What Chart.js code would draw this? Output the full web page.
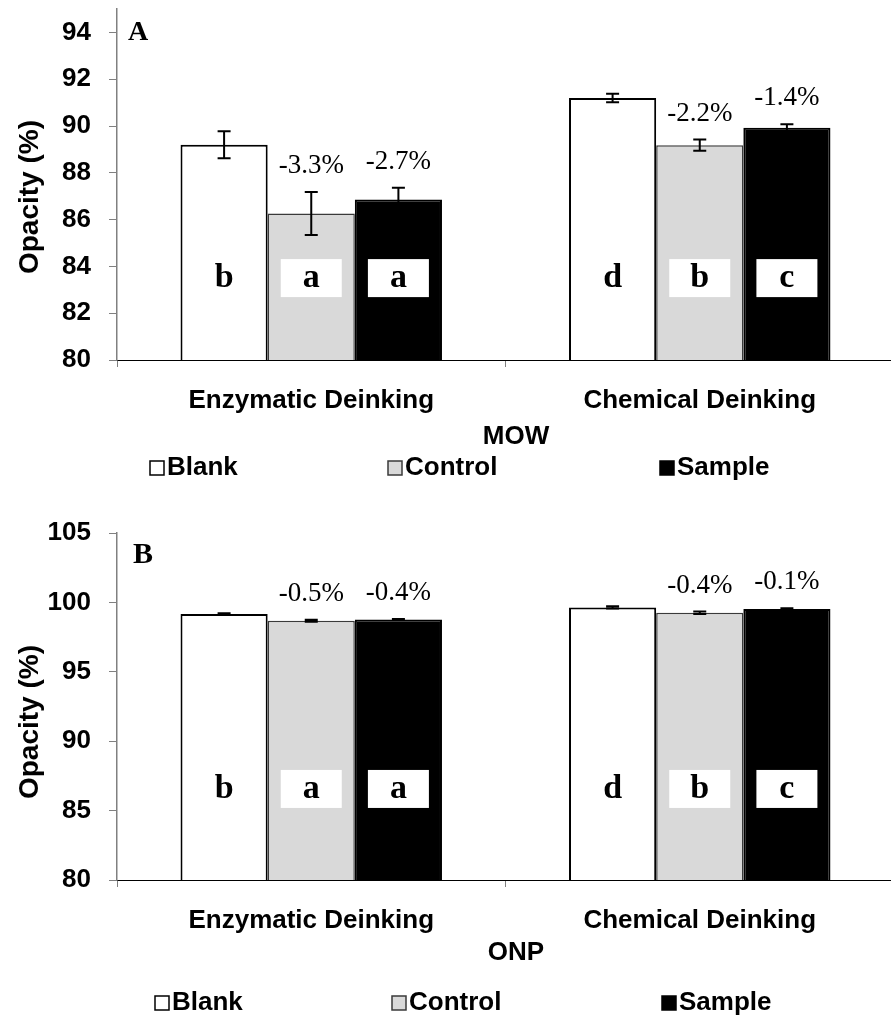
<!DOCTYPE html>
<html lang="en">
<head>
<meta charset="UTF-8">
<title>Opacity of deinked pulps</title>
<script src="https://cdn.jsdelivr.net/npm/chart.js"></script>
<style>
  html, body { margin: 0; padding: 0; background: #fff; overflow: hidden; }
  .panel { position: relative; width: 896px; }
  #panelA { height: 500px; }
  #panelB { height: 517px; }
</style>
</head>
<body>
<div class="panel" id="panelA"><canvas id="chartA"></canvas></div>
<div class="panel" id="panelB"><canvas id="chartB"></canvas></div>

<script>
const categories = ['Enzymatic Deinking', 'Chemical Deinking'];
const seriesNames = ['Blank', 'Control', 'Sample'];

// MOW opacity (%) with standard deviations
const mowTicks = [80, 82, 84, 86, 88, 90, 92, 94];
const mowBlank = [89.2, 91.2];
const mowControl = [86.26, 89.18];
const mowSample = [86.86, 89.93];
const mowBlankErr = [0.58, 0.18];
const mowControlErr = [0.92, 0.24];
const mowSampleErr = [0.5, 0.14];
const mowControlChange = ['-3.3%', '-2.2%'];
const mowSampleChange = ['-2.7%', '-1.4%'];

// ONP opacity (%) with standard deviations
const onpTicks = [80, 85, 90, 95, 100, 105];
const onpBlank = [99.16, 99.64];
const onpControl = [98.68, 99.26];
const onpSample = [98.77, 99.53];
const onpBlankErr = [0.05, 0.08];
const onpControlErr = [0.07, 0.09];
const onpSampleErr = [0.03, 0.04];
const onpControlChange = ['-0.5%', '-0.4%'];
const onpSampleChange = ['-0.4%', '-0.1%'];

// significance groups (same for both pulps)
const blankGroup = ['b', 'd'];
const controlGroup = ['a', 'b'];
const sampleGroup = ['a', 'c'];

const SANS = '"Liberation Sans", Arial, sans-serif';
const SERIF = '"Liberation Serif", "Times New Roman", serif';
const fills = ['#ffffff', '#d9d9d9', '#000000'];
const strokes = ['#000000', '#3a3a3a', '#000000'];

// error bars, % change labels, letter boxes, titles and legend
const annotate = {
  id: 'annotate',
  afterDatasetsDraw(chart, args, o) {
    const ctx = chart.ctx;
    const y = chart.scales.y;
    ctx.save();
    chart.data.datasets.forEach((ds, di) => {
      const meta = chart.getDatasetMeta(di);
      meta.data.forEach((bar, i) => {
        const v = ds.data[i];
        const e = o.errors[di][i];
        const top = y.getPixelForValue(v + e);
        const bot = y.getPixelForValue(v - e);

        // error bar
        ctx.strokeStyle = '#000';
        ctx.lineWidth = 2;
        ctx.beginPath();
        ctx.moveTo(bar.x, top); ctx.lineTo(bar.x, bot);
        ctx.moveTo(bar.x - 6.5, top); ctx.lineTo(bar.x + 6.5, top);
        ctx.moveTo(bar.x - 6.5, bot); ctx.lineTo(bar.x + 6.5, bot);
        ctx.stroke();

        // change vs blank
        if (o.changes[di]) {
          ctx.fillStyle = '#000';
          ctx.font = '27px ' + SERIF;
          ctx.textAlign = 'center';
          ctx.textBaseline = 'middle';
          ctx.fillText(o.changes[di][i], bar.x, top - 26);
        }

        // significance letter in a white box
        const ly = y.getPixelForValue(o.letterValue);
        ctx.fillStyle = '#fff';
        ctx.fillRect(bar.x - 30.5, ly - 19, 61, 38);
        ctx.fillStyle = '#000';
        ctx.font = 'bold 34px ' + SERIF;
        ctx.textAlign = 'center';
        ctx.textBaseline = 'middle';
        ctx.fillText(o.groups[di][i], bar.x, ly);
      });
    });
    ctx.restore();
  },
  afterDraw(chart, args, o) {
    const ctx = chart.ctx;
    const area = chart.chartArea;
    ctx.save();
    ctx.fillStyle = '#000';

    ctx.font = 'bold ' + o.panelSize + 'px ' + SERIF;
    ctx.textAlign = 'left';
    ctx.textBaseline = 'middle';
    ctx.fillText(o.panel, o.panelX, o.panelY);

    ctx.save();
    ctx.translate(30, o.yTitleY);
    ctx.rotate(-Math.PI / 2);
    ctx.font = 'bold 28px ' + SANS;
    ctx.textAlign = 'center';
    ctx.fillText('Opacity (%)', 0, 0);
    ctx.restore();

    ctx.font = 'bold 26px ' + SANS;
    ctx.textAlign = 'center';
    ctx.fillText(o.xTitle, 516, area.bottom + o.xTitleGap);

    // legend
    const ly = area.bottom + o.legendGap;
    seriesNames.forEach((name, i) => {
      const x = o.legendX[i];
      ctx.fillStyle = fills[i];
      ctx.fillRect(x, ly - 7, 14, 14);
      ctx.strokeStyle = strokes[i];
      ctx.lineWidth = 1.5;
      ctx.strokeRect(x, ly - 7, 14, 14);
      ctx.fillStyle = '#000';
      ctx.font = 'bold 26px ' + SANS;
      ctx.textAlign = 'left';
      ctx.fillText(name, x + 17, ly);
    });
    ctx.restore();
  }
};

function buildChart(id, p) {
  return new Chart(document.getElementById(id), {
    type: 'bar',
    data: {
      labels: categories,
      datasets: [
        { label: seriesNames[0], data: p.blank, backgroundColor: fills[0], borderColor: strokes[0], borderWidth: 2 },
        { label: seriesNames[1], data: p.control, backgroundColor: fills[1], borderColor: strokes[1], borderWidth: 1.5 },
        { label: seriesNames[2], data: p.sample, backgroundColor: fills[2], borderColor: strokes[2], borderWidth: 2 }
      ]
    },
    options: {
      responsive: true,
      maintainAspectRatio: false,
      animation: false,
      layout: { padding: { top: p.padTop, bottom: p.padBottom, left: 0, right: 2 } },
      datasets: { bar: { barPercentage: 1, categoryPercentage: 0.673 } },
      plugins: {
        legend: { display: false },
        tooltip: { enabled: false },
        annotate: p.notes
      },
      scales: {
        x: {
          grid: { drawOnChartArea: false, drawTicks: true, tickLength: 7, color: '#808080' },
          border: { color: '#000', width: 1 },
          ticks: { color: '#000', padding: 18, font: { family: SANS, size: 26, weight: 'bold' } },
          afterFit: s => { s.height = 100; s.paddingLeft = 0; s.paddingRight = 0; }
        },
        y: {
          min: p.min,
          max: p.max,
          ticks: { color: '#000', padding: 18, font: { family: SANS, size: 26, weight: 'bold' } },
          grid: { drawOnChartArea: false, tickLength: 8, color: '#808080' },
          border: { color: '#808080', width: 1.5 },
          afterBuildTicks: s => { s.ticks = p.ticks.map(v => ({ value: v })); },
          afterFit: s => { s.width = 117; s.paddingTop = 0; s.paddingBottom = 0; }
        }
      }
    },
    plugins: [annotate]
  });
}

buildChart('chartA', {
  blank: mowBlank, control: mowControl, sample: mowSample,
  min: 80, max: 95, ticks: mowTicks,
  padTop: 9, padBottom: 40,
  notes: {
    errors: [mowBlankErr, mowControlErr, mowSampleErr],
    changes: [null, mowControlChange, mowSampleChange],
    groups: [blankGroup, controlGroup, sampleGroup],
    letterValue: 83.5,
    panel: 'A', panelX: 128, panelY: 33, panelSize: 28,
    yTitleY: 197,
    xTitle: 'MOW', xTitleGap: 77,
    legendGap: 108, legendX: [150, 388, 660]
  }
});

buildChart('chartB', {
  blank: onpBlank, control: onpControl, sample: onpSample,
  min: 80, max: 105, ticks: onpTicks,
  padTop: 33, padBottom: 37,
  notes: {
    errors: [onpBlankErr, onpControlErr, onpSampleErr],
    changes: [null, onpControlChange, onpSampleChange],
    groups: [blankGroup, controlGroup, sampleGroup],
    letterValue: 86.56,
    panel: 'B', panelX: 133, panelY: 55, panelSize: 30,
    yTitleY: 222,
    xTitle: 'ONP', xTitleGap: 73,
    legendGap: 123, legendX: [155, 392, 662]
  }
});
</script>
</body>
</html>
